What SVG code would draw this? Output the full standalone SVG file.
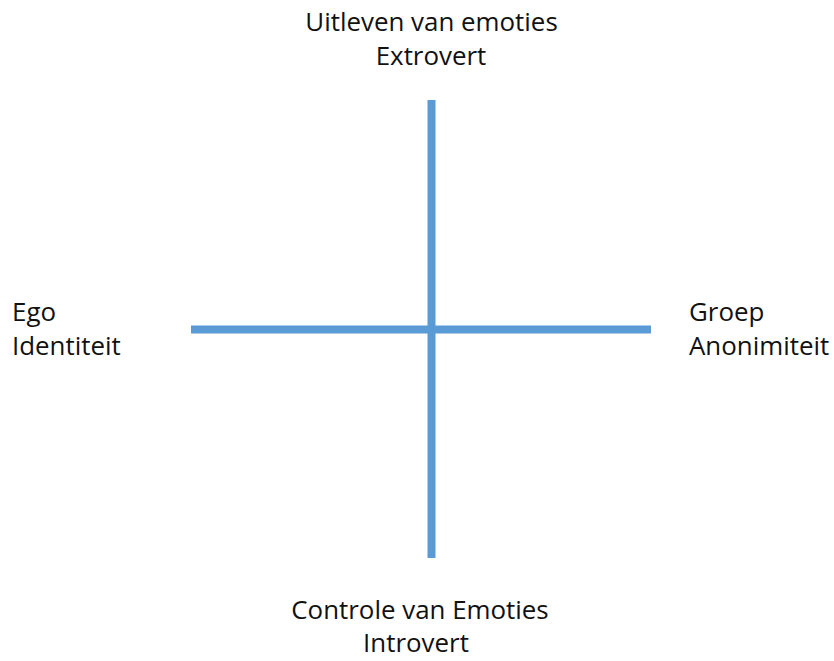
<svg xmlns="http://www.w3.org/2000/svg" width="834" height="661" viewBox="0 0 834 661">
  <style>
    .axis { stroke: #5B9BD5; stroke-width: 8; fill: none; }
    .lbl { font-family: "Open Sans", "Liberation Sans", sans-serif; font-size: 25.9px; fill: #111111; }
    .mid { text-anchor: middle; }
  </style>
  <rect width="834" height="661" fill="#ffffff"/>
  <g id="connectors">
    <line class="axis" x1="431.5" y1="100" x2="431.5" y2="558"/>
    <line class="axis" x1="191" y1="329.5" x2="651" y2="329.5"/>
  </g>
  <g id="top">
    <text class="lbl mid" x="431.5" y="31">Uitleven van emoties</text>
    <text class="lbl mid" x="431" y="65">Extrovert</text>
  </g>
  <g id="left">
    <text class="lbl" x="12" y="321">Ego</text>
    <text class="lbl" x="12" y="355">Identiteit</text>
  </g>
  <g id="right">
    <text class="lbl" x="689" y="321">Groep</text>
    <text class="lbl" x="689" y="355">Anonimiteit</text>
  </g>
  <g id="bottom">
    <text class="lbl mid" x="420" y="619">Controle van Emoties</text>
    <text class="lbl mid" x="416" y="652">Introvert</text>
  </g>
</svg>
